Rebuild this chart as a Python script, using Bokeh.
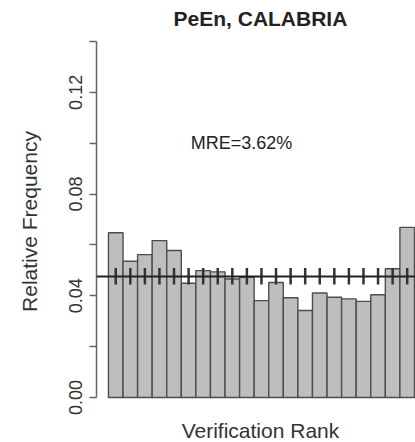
from bokeh.plotting import figure
from bokeh.models import Range1d, FixedTicker, Span, Label, ColumnDataSource
from bokeh.embed import file_html
from bokeh.resources import INLINE

# Verification rank histogram (21 ranks, 20 ensemble members)
ranks = list(range(1, 22))
rel_freq = [0.0648, 0.0536, 0.0562, 0.0617, 0.0578, 0.0449, 0.0499, 0.0494,
            0.0466, 0.0473, 0.0381, 0.0452, 0.0392, 0.0342, 0.0411, 0.0394,
            0.0388, 0.0378, 0.0404, 0.0506, 0.0669]
expected = 1 / 21
ci_low = [0.0444] * 21
ci_high = [0.0509] * 21
y_major = [0.00, 0.04, 0.08, 0.12]
y_minor = [0.02, 0.06, 0.10, 0.14]
title_text = "PeEn, CALABRIA"
x_label = "Verification Rank"
mre_text = "MRE=3.62%"

FONT = "Liberation Sans"

centers = [r - 0.5 for r in ranks]
src = ColumnDataSource(dict(x=centers, top=rel_freq, lo=ci_low, hi=ci_high))

# the frame fills the whole height; the axis itself is bounded to 0..0.14
p = figure(width=415, height=442, output_backend="svg", toolbar_location=None,
           x_range=Range1d(-0.82, 21.07), y_range=Range1d(-0.0177, 0.15612),
           min_border_left=96, min_border_right=0, min_border_top=0,
           min_border_bottom=0)
p.outline_line_color = None
p.grid.visible = False
p.background_fill_color = "white"
p.border_fill_color = "white"

p.vbar(x="x", top="top", bottom=0, width=1.0, source=src,
       fill_color="#bebebe", line_color="#4d4d4d", line_width=1.4)

p.add_layout(Span(location=expected, dimension="width",
                  line_color="#222222", line_width=2))
p.segment(x0="x", y0="lo", x1="x", y1="hi", source=src,
          line_color="#333333", line_width=2.5)

p.add_layout(Label(x=9.13, y=0.10, text=mre_text, text_align="center",
                   text_baseline="middle", text_font=FONT,
                   text_font_size="18px", text_color="#222222"))

# main title and x caption
p.add_layout(Label(x=10.43, y=0.1492, text=title_text, text_align="center",
                   text_baseline="middle", text_font=FONT,
                   text_font_size="21px", text_font_style="bold",
                   text_color="#222222"))
p.add_layout(Label(x=10.43, y=-0.0130, text=x_label, text_align="center",
                   text_baseline="middle", text_font=FONT,
                   text_font_size="21px", text_color="#333333"))

p.xaxis.visible = False
yax = p.yaxis[0]
yax.bounds = (0, 0.14)
yax.ticker = FixedTicker(ticks=y_major, minor_ticks=y_minor)
yax.major_label_overrides = {t: f"{t:.2f}" for t in y_major}
yax.major_label_orientation = "vertical"
yax.major_label_text_font = FONT
yax.major_label_text_font_size = "18px"
yax.major_label_text_color = "#333333"
yax.major_label_standoff = 7
yax.axis_line_color = "#666666"
yax.axis_line_width = 1.5
yax.major_tick_line_color = "#666666"
yax.minor_tick_line_color = "#666666"
yax.major_tick_line_width = 1.5
yax.minor_tick_line_width = 1.5
yax.major_tick_out = 7
yax.major_tick_in = 0
yax.minor_tick_out = 7
yax.minor_tick_in = 0
yax.axis_label = "Relative Frequency"
yax.axis_label_text_font = FONT
yax.axis_label_text_font_size = "21px"
yax.axis_label_text_font_style = "normal"
yax.axis_label_text_color = "#333333"
yax.axis_label_standoff = 26

open("out.html", "w").write(file_html(p, INLINE))
